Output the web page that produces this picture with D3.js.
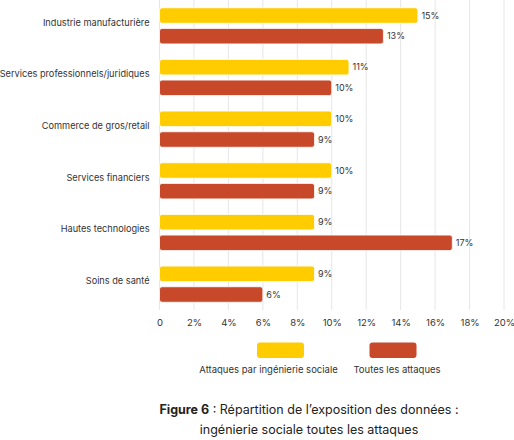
<!DOCTYPE html>
<html>
<head>
<meta charset="utf-8">
<script src="https://cdn.jsdelivr.net/npm/d3@7"></script>
<style>
  body { margin: 0; background: #fff; }
  svg { display: block; font-family: Inter, "Noto Sans", sans-serif; }
</style>
</head>
<body>
<svg id="chart" width="514" height="440"></svg>
<script>
// donnees
const categories = [
  "Industrie manufacturière",
  "Services professionnels/juridiques",
  "Commerce de gros/retail",
  "Services financiers",
  "Hautes technologies",
  "Soins de santé"
];
const seriesNames = ["Attaques par ingénierie sociale", "Toutes les attaques"];
const socialValues = [15, 11, 10, 10, 9, 9];
const allValues = [13, 10, 9, 9, 17, 6];
const tickValues = [0, 2, 4, 6, 8, 10, 12, 14, 16, 18, 20];
const colors = ["#ffcc00", "#c8482a"];

const svg = d3.select("#chart");

const x = d3.scaleLinear().domain([0, 20]).range([159.5, 504]);
const y0 = d3.scaleBand().domain(categories).range([0, 310])
  .paddingInner(0.3).paddingOuter(0.15);
const y1 = d3.scaleBand().domain(seriesNames).range([0, y0.bandwidth()])
  .paddingInner(0.25);

// grille verticale
svg.append("g")
  .selectAll("line")
  .data(tickValues)
  .join("line")
  .attr("x1", d => x(d)).attr("x2", d => x(d))
  .attr("y1", 0).attr("y2", 310)
  .attr("stroke", "#e6e6e6")
  .attr("stroke-width", 1);

// axe x
const xAxis = svg.append("g")
  .attr("transform", "translate(0,310)")
  .call(d3.axisBottom(x).tickValues(tickValues).tickSize(0).tickPadding(9)
    .tickFormat(d => d === 0 ? "0" : d + "%"));
xAxis.select(".domain").remove();
xAxis.selectAll("text")
  .attr("font-family", "Inter, sans-serif")
  .attr("font-size", 9.5)
  .attr("fill", "#333");

// libelles categories
svg.append("g")
  .selectAll("text")
  .data(categories)
  .join("text")
  .attr("x", 149.5)
  .attr("y", d => y0(d) + y0.bandwidth() / 2 - 3.5)
  .attr("dy", "0.35em")
  .attr("text-anchor", "end")
  .attr("font-size", 9.2)
  .attr("fill", "#333")
  .text(d => d);

// barres
const rows = categories.map((c, i) => ({
  cat: c,
  vals: [
    { s: seriesNames[0], v: socialValues[i], k: 0 },
    { s: seriesNames[1], v: allValues[i], k: 1 }
  ]
}));

const groups = svg.append("g")
  .selectAll("g")
  .data(rows)
  .join("g")
  .attr("transform", d => "translate(0," + y0(d.cat) + ")");

groups.selectAll("rect")
  .data(d => d.vals)
  .join("rect")
  .attr("x", x(0))
  .attr("y", d => y1(d.s))
  .attr("width", d => x(d.v) - x(0))
  .attr("height", y1.bandwidth())
  .attr("rx", 2.5)
  .attr("fill", d => colors[d.k])
  .attr("stroke", "#fff")
  .attr("stroke-width", 0.8);

groups.selectAll("text")
  .data(d => d.vals)
  .join("text")
  .attr("x", d => x(d.v) + 3.5)
  .attr("y", d => y1(d.s) + y1.bandwidth() / 2)
  .attr("dy", "0.35em")
  .attr("font-size", 9)
  .attr("fill", "#333")
  .text(d => d.v + "%");

// legende
const legendX = [280.5, 393];
const legend = svg.append("g")
  .selectAll("g")
  .data(seriesNames)
  .join("g")
  .attr("transform", (d, i) => "translate(" + legendX[i] + ",0)");

legend.append("rect")
  .attr("x", -23.5).attr("y", 342.5)
  .attr("width", 47).attr("height", 15.5)
  .attr("rx", 3)
  .attr("fill", (d, i) => colors[i]);

legend.append("text")
  .attr("x", (d, i) => i === 0 ? -12 : 4)
  .attr("y", 373)
  .attr("text-anchor", "middle")
  .attr("font-size", 9.5)
  .attr("fill", "#333")
  .text(d => d);

// titre
const title = svg.append("text")
  .attr("x", 309).attr("y", 414)
  .attr("text-anchor", "middle")
  .attr("font-size", 12.5)
  .attr("fill", "#222");
title.append("tspan").attr("font-weight", "bold").text("Figure 6");
title.append("tspan").text(" : Répartition de l’exposition des données :");

svg.append("text")
  .attr("x", 309).attr("y", 434)
  .attr("text-anchor", "middle")
  .attr("font-size", 12.5)
  .attr("fill", "#222")
  .text("ingénierie sociale toutes les attaques");
</script>
</body>
</html>
